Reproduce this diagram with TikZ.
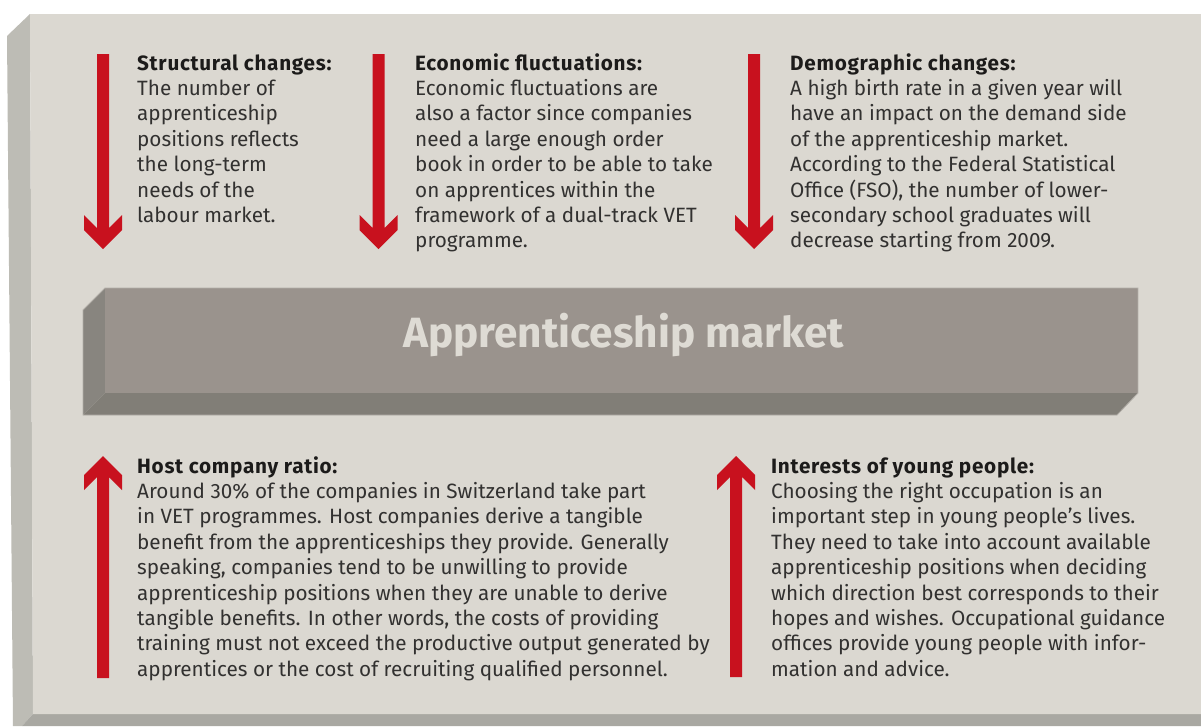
\documentclass[tikz,border=0pt]{standalone}
\usepackage{fontspec}
\setmainfont{Fira Sans}
\usetikzlibrary{calc}
\definecolor{panel}{RGB}{219,216,209}
\definecolor{panelside}{RGB}{189,188,181}
\definecolor{panelbottom}{RGB}{169,168,162}
\definecolor{boxfront}{RGB}{154,147,141}
\definecolor{boxside}{RGB}{136,133,127}
\definecolor{boxbottom}{RGB}{129,126,119}
\definecolor{boxedge}{RGB}{178,174,168}
\definecolor{arrowred}{RGB}{200,17,30}
\definecolor{bodytext}{RGB}{50,49,48}
\definecolor{headtext}{RGB}{28,27,26}
\definecolor{titletext}{RGB}{222,219,212}
\newcommand{\blurbhead}[1]{{\bfseries\addfontfeature{LetterSpace=3.5}\color{headtext}#1}}
\newcommand{\redDownArrow}[3]{%
  \fill[arrowred] (#1-6,#2) -- (#1+6,#2) -- (#1+6,#3-21) -- (#1+19,#3-34)
    -- (#1+19,#3-19) -- (#1,#3) -- (#1-19,#3-19) -- (#1-19,#3-34)
    -- (#1-6,#3-21) -- cycle;}
\newcommand{\redUpArrow}[3]{%
  \fill[arrowred] (#1,#2) -- (#1+19,#2+19) -- (#1+19,#2+34) -- (#1+6,#2+21)
    -- (#1+6,#3) -- (#1-6,#3) -- (#1-6,#2+21) -- (#1-19,#2+34)
    -- (#1-19,#2+19) -- cycle;}

\begin{document}
\begin{tikzpicture}[x=1pt,y=-1pt,
    blurb/.style={align=left,anchor=base west,inner sep=0pt,text=bodytext,
        font=\fontsize{20.7}{25.4}\selectfont}]
    \fill[white] (0,0) rectangle (1201,726);
    \useasboundingbox (0,0) rectangle (1201,726);

    \fill[panelside] (7,36) -- (30,14) -- (33,714) -- (22,726) -- (13,726) -- cycle;
    \fill[panelbottom] (33,714) -- (1201,714) -- (1201,726) -- (22,726) -- cycle;
    \fill[panel] (30,14) -- (1201,14) -- (1201,714) -- (33,714) -- cycle;

    \fill[boxside] (83,310) -- (105,288) -- (105,393) -- (83,415) -- cycle;
    \fill[boxbottom] (105,393) -- (1138,393) -- (1117,415) -- (83,415) -- cycle;
    \fill[boxfront] (105,288) rectangle (1138,393);
    \draw[boxedge,line width=0.8pt] (83,310) -- (105,288) -- (1138,288) 
        -- (1138,393) -- (1117,415) -- (83,415) -- cycle;
    \node[anchor=base,inner sep=0pt,text=titletext,
        font=\bfseries\fontsize{42.3}{42.3}\selectfont] (market) at (623.5,347) 
        {Apprenticeship market};

    \redDownArrow{103}{54}{249}
    \redDownArrow{378.5}{54}{249}
    \redDownArrow{754}{54}{249}
    \redUpArrow{103}{456}{678}
    \redUpArrow{736}{456}{677}

    \node[blurb] (structural) at (137,222.4) {\blurbhead{Structural changes:}\\
        The number of\\ apprenticeship\\ positions reflects\\ the long-term\\
        needs of the\\ labour market.};
    \node[blurb] (economic) at (415,247.8) {\blurbhead{Economic fluctuations:}\\
        Economic fluctuations are\\ also a factor since companies\\
        need a large enough order\\ book in order to be able to take\\
        on apprentices within the\\ framework of a dual-track VET\\ programme.};
    \node[blurb] (demographic) at (790,247.8) {\blurbhead{Demographic changes:}\\
        A high birth rate in a given year will\\ have an impact on the demand side\\
        of the apprenticeship market.\\ According to the Federal Statistical\\
        Office (FSO), the number of lower-\\ secondary school graduates will\\
        decrease starting from 2009.};

    \node[blurb] (host) at (137,676.2) {\blurbhead{Host company ratio:}\\
        Around 30\% of the companies in Switzerland take part\\
        in VET programmes. Host companies derive a tangible\\
        benefit from the apprenticeships they provide. Generally\\
        speaking, companies tend to be unwilling to provide\\
        apprenticeship positions when they are unable to derive\\
        tangible benefits. In other words, the costs of providing\\
        training must not exceed the productive output generated by\\
        apprentices or the cost of recruiting qualified personnel.};
    \node[blurb] (interests) at (771,676.2) {\blurbhead{Interests of young people:}\\
        Choosing the right occupation is an\\ important step in young people's lives.\\
        They need to take into account available\\
        apprenticeship positions when deciding\\
        which direction best corresponds to their\\
        hopes and wishes. Occupational guidance\\
        offices provide young people with infor-\\ mation and advice.};
\end{tikzpicture}
\end{document}
